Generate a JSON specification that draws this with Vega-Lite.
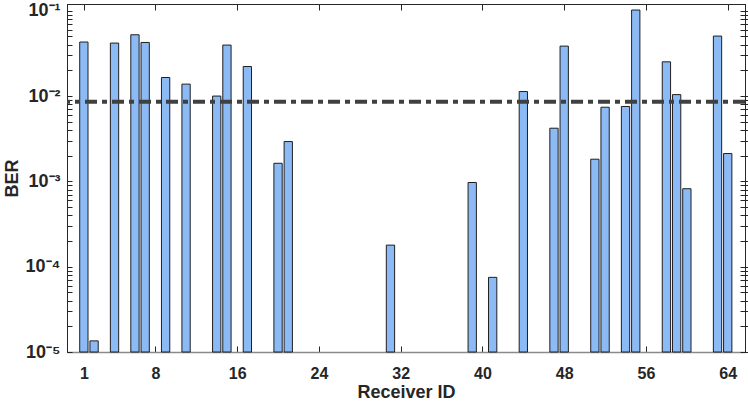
{
  "$schema": "https://vega.github.io/schema/vega-lite/v6.json",
  "width": 678,
  "height": 348,
  "autosize": "none",
  "padding": {"left": 67, "top": 4, "right": 3, "bottom": 50},
  "background": "white",
  "config": {
    "view": {"stroke": "#262626", "strokeWidth": 1},
    "font": "Liberation Sans",
    "axis": {"grid": false, "labelFont": "Liberation Sans", "titleFont": "Liberation Sans", "labelFontWeight": "bold", "titleFontWeight": "bold", "labelColor": "#262626", "titleColor": "#262626", "tickColor": "#262626", "domainColor": "#262626"}
  },
  "datasets": {
    "bars": [
      {"id": 1, "ber": 0.043},
      {"id": 2, "ber": 0.0000135},
      {"id": 4, "ber": 0.0418},
      {"id": 6, "ber": 0.0523},
      {"id": 7, "ber": 0.0425},
      {"id": 9, "ber": 0.0165},
      {"id": 11, "ber": 0.0138},
      {"id": 14, "ber": 0.0100},
      {"id": 15, "ber": 0.0396},
      {"id": 17, "ber": 0.0222},
      {"id": 20, "ber": 0.00163},
      {"id": 21, "ber": 0.00293},
      {"id": 31, "ber": 0.000179},
      {"id": 39, "ber": 0.00097},
      {"id": 41, "ber": 0.000075},
      {"id": 44, "ber": 0.0113},
      {"id": 47, "ber": 0.0042},
      {"id": 48, "ber": 0.0385},
      {"id": 51, "ber": 0.00182},
      {"id": 52, "ber": 0.0074},
      {"id": 54, "ber": 0.00755},
      {"id": 55, "ber": 0.102},
      {"id": 58, "ber": 0.0252},
      {"id": 59, "ber": 0.0104},
      {"id": 60, "ber": 0.00082},
      {"id": 63, "ber": 0.0505},
      {"id": 64, "ber": 0.00212}
    ],
    "threshold": [{"ber": 0.0086}]
  },
  "layer": [
    {
      "data": {"name": "bars"},
      "mark": {"type": "bar", "size": 8.3, "fill": "#8cbaf5", "stroke": "#1f1f1f", "strokeWidth": 1},
      "encoding": {
        "x": {
          "field": "id", "type": "quantitative",
          "scale": {"domain": [-0.16, 65.2], "nice": false, "zero": false},
          "axis": {
            "values": [1, 8, 16, 24, 32, 40, 48, 56, 64],
            "title": "Receiver ID", "titleFontSize": 18, "titlePadding": 2,
            "labelFontSize": 16, "labelPadding": 19, "tickSize": -6,
            "domainColor": "#8a8a8a", "domainWidth": 1.5
          }
        },
        "y": {
          "field": "ber", "type": "quantitative",
          "scale": {"type": "log", "domain": [0.00001, 0.12], "nice": false},
          "axis": {
            "values": [0.00001, 0.00002, 0.00003, 0.00004, 0.00005, 0.00006, 0.00007, 0.00008, 0.00009, 0.0001, 0.0002, 0.0003, 0.0004, 0.0005, 0.0006, 0.0007, 0.0008, 0.0009, 0.001, 0.002, 0.003, 0.004, 0.005, 0.006, 0.007, 0.008, 0.009, 0.01, 0.02, 0.03, 0.04, 0.05, 0.06, 0.07, 0.08, 0.09, 0.1],
            "labelExpr": "datum.value > 0.099 && datum.value < 0.101 ? '10⁻¹' : datum.value > 0.0099 && datum.value < 0.0101 ? '10⁻²' : datum.value > 0.00099 && datum.value < 0.00101 ? '10⁻³' : datum.value > 0.000099 && datum.value < 0.000101 ? '10⁻⁴' : datum.value > 0.0000099 && datum.value < 0.0000101 ? '10⁻⁵' : ''",
            "title": "BER", "titleFontSize": 18, "titlePadding": 4,
            "labelFontSize": 18, "labelPadding": 12, "tickSize": -5
          }
        },
        "y2": {"datum": 0.00001}
      }
    },
    {
      "data": {"name": "threshold"},
      "mark": {"type": "rule", "stroke": "#404040", "strokeWidth": 4, "strokeDash": [12, 5, 5, 5]},
      "encoding": {
        "y": {"field": "ber", "type": "quantitative"}
      }
    },
    {
      "data": {"name": "bars"},
      "mark": {"type": "point", "opacity": 0, "size": 1},
      "encoding": {
        "x": {
          "field": "id", "type": "quantitative",
          "axis": {"orient": "top", "values": [1, 8, 16, 24, 32, 40, 48, 56, 64], "labels": false, "title": null, "tickSize": -6}
        },
        "y": {
          "field": "ber", "type": "quantitative",
          "axis": {
            "orient": "right", "labels": false, "title": null, "tickSize": -5,
            "values": [0.00001, 0.00002, 0.00003, 0.00004, 0.00005, 0.00006, 0.00007, 0.00008, 0.00009, 0.0001, 0.0002, 0.0003, 0.0004, 0.0005, 0.0006, 0.0007, 0.0008, 0.0009, 0.001, 0.002, 0.003, 0.004, 0.005, 0.006, 0.007, 0.008, 0.009, 0.01, 0.02, 0.03, 0.04, 0.05, 0.06, 0.07, 0.08, 0.09, 0.1]
          }
        }
      }
    }
  ],
  "resolve": {"axis": {"x": "independent", "y": "independent"}}
}
